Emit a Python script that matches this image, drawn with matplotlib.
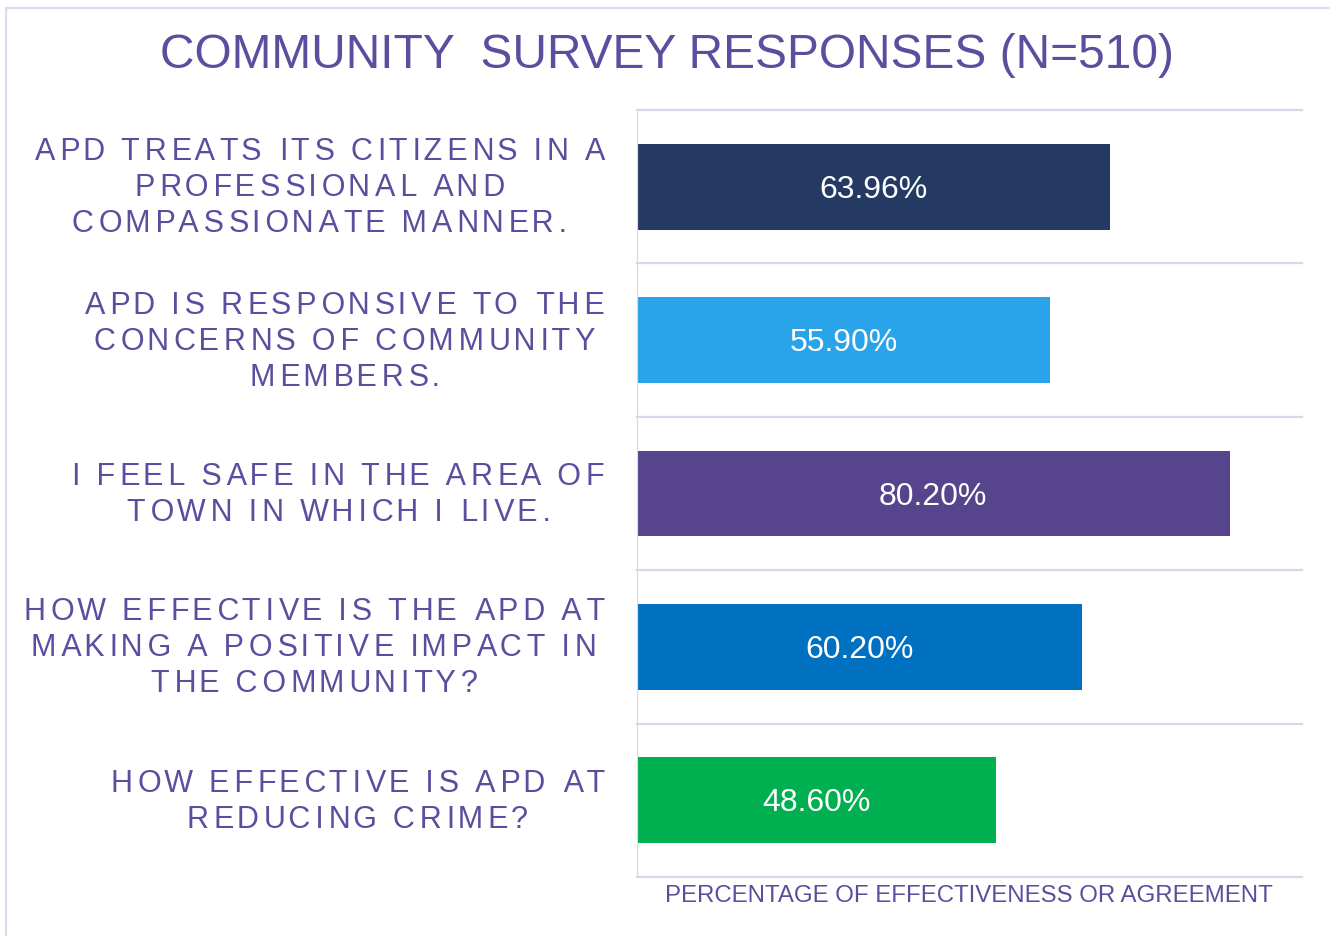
import matplotlib
matplotlib.use("Agg")
import matplotlib.pyplot as plt
from matplotlib.patches import Rectangle
import matplotlib.transforms as mtransforms

# veriler
questions = [
    "APD TREATS ITS CITIZENS IN A\nPROFESSIONAL AND\nCOMPASSIONATE MANNER.",
    "APD IS RESPONSIVE TO THE\nCONCERNS OF COMMUNITY\nMEMBERS.",
    "I FEEL SAFE IN THE AREA OF\nTOWN IN WHICH I LIVE.",
    "HOW EFFECTIVE IS THE APD AT\nMAKING A POSITIVE IMPACT IN\nTHE COMMUNITY?",
    "HOW EFFECTIVE IS APD AT\nREDUCING CRIME?",
]
percentages = [63.96, 55.90, 80.20, 60.20, 48.60]
bar_colors = ["#243A63", "#29A3E9", "#56448D", "#0070C0", "#00B050"]

title = "COMMUNITY  SURVEY RESPONSES (N=510)"
xlabel = "PERCENTAGE OF EFFECTIVENESS OR AGREEMENT"

text_color = "#5B4E9F"
line_color = "#D9D6EA"
font = ["Liberation Sans", "DejaVu Sans"]


def spaced(s, step=1.6):
    # harf aralığı: her araya ortalama 1.6 ince boşluk (hair space)
    out = []
    for line in s.split("\n"):
        t = line[0]
        for k, ch in enumerate(line[1:]):
            n = round(step * (k + 1)) - round(step * k)
            t += "\u200a" * n + ch
        out.append(t)
    return "\n".join(out)


fig = plt.figure(figsize=(13.3, 9.36), dpi=100)
ax = fig.add_axes([637 / 1330, 1 - 877 / 936, 665 / 1330, 767 / 936])

y = range(len(percentages))
ax.barh(y, percentages, height=0.56, color=bar_colors, zorder=3)
ax.set_xlim(0, 90)
ax.set_ylim(len(percentages) - 0.5, -0.5)

# satır ayırıcı çizgiler
for b in range(len(percentages) + 1):
    ax.axhline(b - 0.5, color=line_color, lw=1.6, zorder=1, clip_on=False)
ax.axvline(0, color=line_color, lw=1.6, zorder=4)

for s in ax.spines.values():
    s.set_visible(False)
ax.set_xticks([])
ax.set_yticks([])

# değer etiketleri
for i, v in enumerate(percentages):
    ax.text(v / 2, i + 0.02, f"{v:.2f}%", color="white", fontsize=23, family=font,
            ha="center", va="center", zorder=5)

# soru etiketleri
trans = mtransforms.blended_transform_factory(ax.transAxes, ax.transData)
for i, q in enumerate(questions):
    ax.text(-32 / 665, i + 0.01, spaced(q), transform=trans, color=text_color,
            fontsize=22, family=font, ha="right", va="center",
            multialignment="center", linespacing=1.26)

fig.text(667 / 1330, 1 - 55 / 936, title, color=text_color, fontsize=34.5,
         family=font, ha="center", va="center")
fig.text(969 / 1330, 1 - 896 / 936, xlabel, color=text_color, fontsize=17.3,
         family=font, ha="center", va="center")

# çerçeve
fig.patches.append(Rectangle((6 / 1330, -0.1), 1.1, 1 - 8 / 936 + 0.1,
                             transform=fig.transFigure, fill=False,
                             edgecolor="#DDDBEF", lw=1.6))

fig.savefig("out.png", dpi=100)
